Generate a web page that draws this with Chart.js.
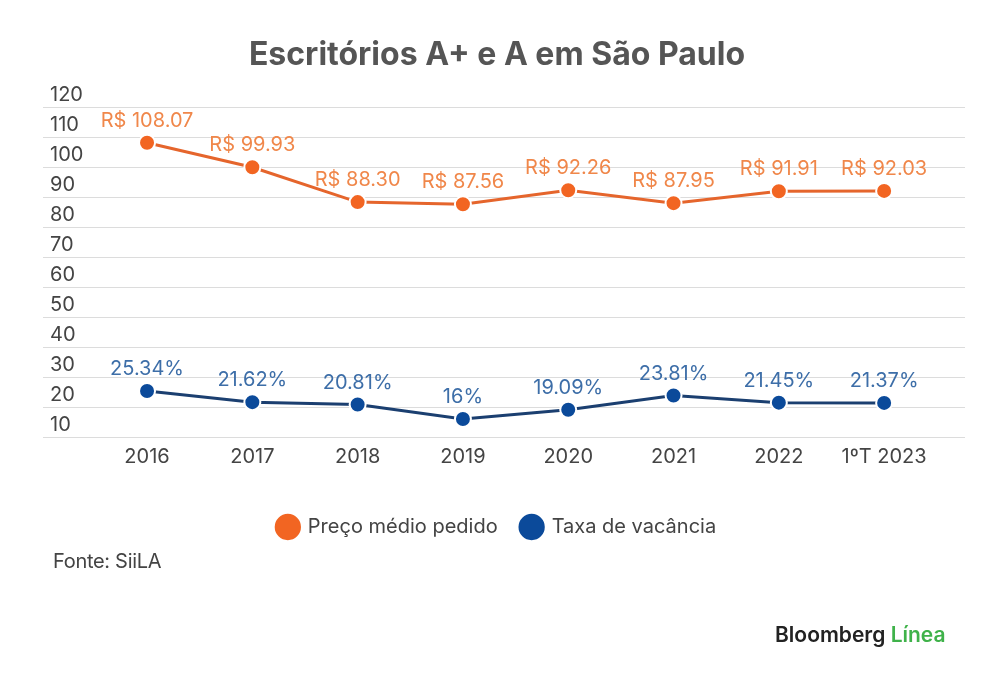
<!DOCTYPE html>
<html>
<head>
<meta charset="utf-8">
<script src="https://cdn.jsdelivr.net/npm/chart.js@4"></script>
<style>
  html, body { margin: 0; padding: 0; background: #fff; }
  #wrap { position: relative; width: 1000px; height: 687px; }
  #fonte { position: absolute; left: 53px; top: 549px; font: 20px Inter, sans-serif; color: #444; letter-spacing: -0.3px; }
  #logo { position: absolute; left: 775px; top: 622px; font: 600 21px Inter, sans-serif; color: #222; letter-spacing: 0px; }
  #logo span { color: #3fb24a; }
</style>
</head>
<body>
<div id="wrap">
  <canvas id="myChart" width="1000" height="687"></canvas>
  <div id="fonte">Fonte: SiiLA</div>
  <div id="logo">Bloomberg <span>Línea</span></div>
</div>
<script>
const years = ['2016', '2017', '2018', '2019', '2020', '2021', '2022', '1ºT 2023'];
const preco = [108.07, 99.93, 88.30, 87.56, 92.26, 87.95, 91.91, 92.03];
const vacancia = [25.34, 21.62, 20.81, 16, 19.09, 23.81, 21.45, 21.37];
const yTicks = [10, 20, 30, 40, 50, 60, 70, 80, 90, 100, 110, 120];

const orange = '#f26522';
const blue = '#0b4a9a';

// value labels above each point
const pointLabels = {
  id: 'pointLabels',
  afterDatasetsDraw(chart) {
    const ctx = chart.ctx;
    ctx.save();
    ctx.font = '20px Inter, sans-serif';
    ctx.textAlign = 'center';
    ctx.textBaseline = 'middle';
    chart.data.datasets.forEach(function(ds, i) {
      chart.getDatasetMeta(i).data.forEach(function(pt, j) {
        const v = ds.data[j].y;
        const txt = i === 0 ? 'R$ ' + v.toFixed(2) : v + '%';
        ctx.fillStyle = ds.labelColor;
        ctx.fillText(txt, pt.x, pt.y - 22);
      });
    });
    ctx.restore();
  }
};

new Chart(document.getElementById('myChart'), {
  type: 'line',
  data: {
    datasets: [{
      label: 'Preço médio pedido',
      data: preco.map((v, i) => ({x: i, y: v})),
      borderColor: '#e5652c',
      backgroundColor: orange,
      pointBackgroundColor: orange,
      pointBorderColor: '#fff',
      pointBorderWidth: 2,
      pointRadius: 8,
      borderWidth: 3,
      labelColor: '#f0874a'
    }, {
      label: 'Taxa de vacância',
      data: vacancia.map((v, i) => ({x: i, y: v})),
      borderColor: '#1b3f70',
      backgroundColor: blue,
      pointBackgroundColor: blue,
      pointBorderColor: '#fff',
      pointBorderWidth: 2,
      pointRadius: 8,
      borderWidth: 3,
      labelColor: '#3d6ea8'
    }]
  },
  options: {
    responsive: false,
    animation: false,
    layout: { padding: { left: 29, right: 35, top: 0, bottom: 140 } },
    scales: {
      x: {
        type: 'linear',
        min: -0.988,
        max: 7.768,
        grid: { display: false, drawTicks: false },
        border: { display: false },
        afterBuildTicks(axis) {
          axis.ticks = years.map((y, i) => ({ value: i }));
        },
        afterFit(axis) {
          axis.height += 16;
        },
        ticks: {
          padding: 8,
          color: '#444',
          font: { family: 'Inter', size: 20 },
          callback: (v) => years[v]
        }
      },
      y: {
        min: 10,
        max: 120,
        grid: { color: '#dcdcdc', lineWidth: 1, drawTicks: false },
        border: { display: false },
        afterBuildTicks(axis) {
          axis.ticks = yTicks.map(v => ({ value: v }));
        },
        ticks: {
          mirror: true,
          padding: 7,
          labelOffset: -12,
          color: '#444',
          font: { family: 'Inter', size: 20 }
        }
      }
    },
    plugins: {
      title: {
        display: true,
        text: 'Escritórios A+ e A em São Paulo',
        color: '#555',
        font: { family: 'Inter', size: 32, weight: '700', lineHeight: 1.2 },
        padding: { top: 36, bottom: 32.6 }
      },
      legend: {
        position: 'bottom',
        labels: {
          usePointStyle: true,
          pointStyle: 'circle',
          boxWidth: 26,
          boxHeight: 26,
          padding: 24,
          color: '#444',
          font: { family: 'Inter', size: 20 }
        }
      },
      tooltip: { enabled: false }
    }
  },
  plugins: [pointLabels]
});
</script>
</body>
</html>
